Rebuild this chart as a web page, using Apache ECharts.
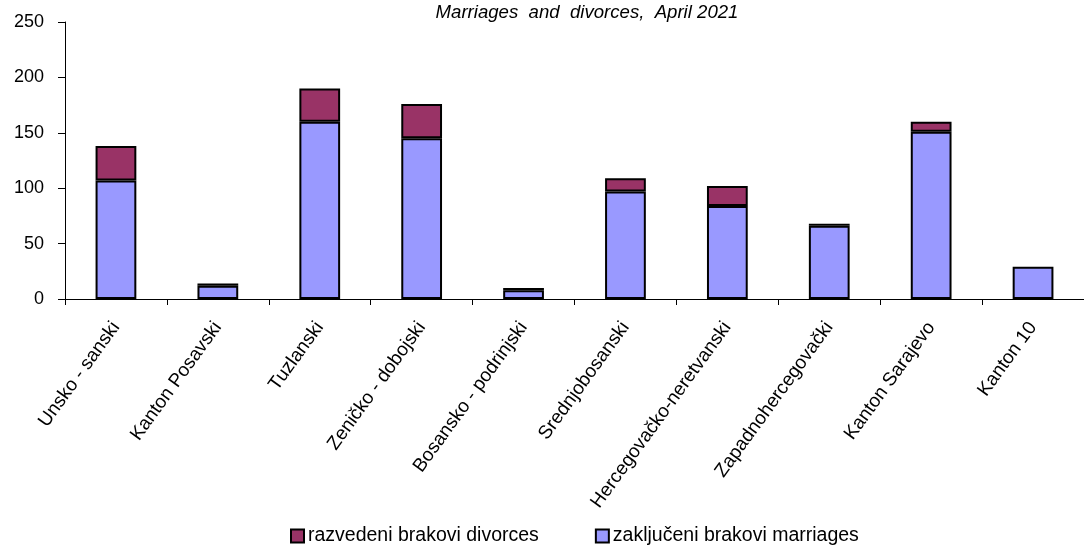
<!DOCTYPE html>
<html>
<head>
<meta charset="utf-8">
<script src="https://cdn.jsdelivr.net/npm/echarts@6/dist/echarts.min.js"></script>
<style>html,body{margin:0;padding:0;background:#fff}#c{width:1084px;height:546px}</style>
</head>
<body>
<div id="c"></div>
<script>
const categories = ['Unsko - sanski','Kanton Posavski','Tuzlanski','Zeničko - dobojski','Bosansko - podrinjski','Srednjobosanski','Hercegovačko-neretvanski','Zapadnohercegovački','Kanton Sarajevo','Kanton 10'];
const marriages = [107, 12, 160, 145, 8, 97, 84, 66, 151, 29];
const divorces = [31, 2, 30, 31, 2, 12, 18, 2, 9, 0];
const yTicks = {min: 0, max: 250, interval: 50};
const titleText = 'Marriages  and  divorces,  April 2021';
const nameDivorces = 'razvedeni brakovi divorces';
const nameMarriages = 'zaključeni brakovi marriages';

const font = '"Liberation Sans", Arial, sans-serif';
const chart = echarts.init(document.getElementById('c'));
chart.setOption({
  animation: false,
  title: {
    text: titleText, left: 582, textAlign: 'center', top: -2,
    textStyle: {fontFamily: font, fontSize: 18.6, fontStyle: 'italic', fontWeight: 'normal', color: '#000'}
  },
  legend: {
    left: 290, bottom: 0, padding: 0, itemGap: 56, itemWidth: 13, itemHeight: 13, icon: 'rect',
    data: [nameDivorces, nameMarriages],
    textStyle: {fontFamily: font, fontSize: 19.5, color: '#000', padding: [0,0,0,-1]}
  },
  grid: {left: 65, right: -4, top: 22, bottom: 247, containLabel: false},
  xAxis: {
    type: 'category', data: categories, boundaryGap: true,
    axisLine: {lineStyle: {color: '#000', width: 1}},
    axisTick: {show: true, interval: 0, length: 6, lineStyle: {color: '#000'}},
    axisLabel: {interval: 0, rotate: 54, fontFamily: font, fontSize: 19, color: '#000', margin: 25,
      verticalAlign: 'middle', align: 'right', padding: [10,0,0,0]}
  },
  yAxis: {
    type: 'value', min: yTicks.min, max: yTicks.max, interval: yTicks.interval,
    splitLine: {show: false},
    axisLine: {show: true, lineStyle: {color: '#000', width: 1}},
    axisTick: {show: true, length: 7, lineStyle: {color: '#000'}},
    axisLabel: {fontFamily: font, fontSize: 18, color: '#000', margin: 21}
  },
  series: [
    {name: nameMarriages, type: 'bar', stack: 's', data: marriages, barWidth: '40%',
     itemStyle: {color: '#9999FF', borderColor: '#000', borderWidth: 2}},
    {name: nameDivorces, type: 'bar', stack: 's', data: divorces.map(v => v === 0 ? null : v), barWidth: '40%',
     itemStyle: {color: '#993366', borderColor: '#000', borderWidth: 2}}
  ]
});
</script>
</body>
</html>
